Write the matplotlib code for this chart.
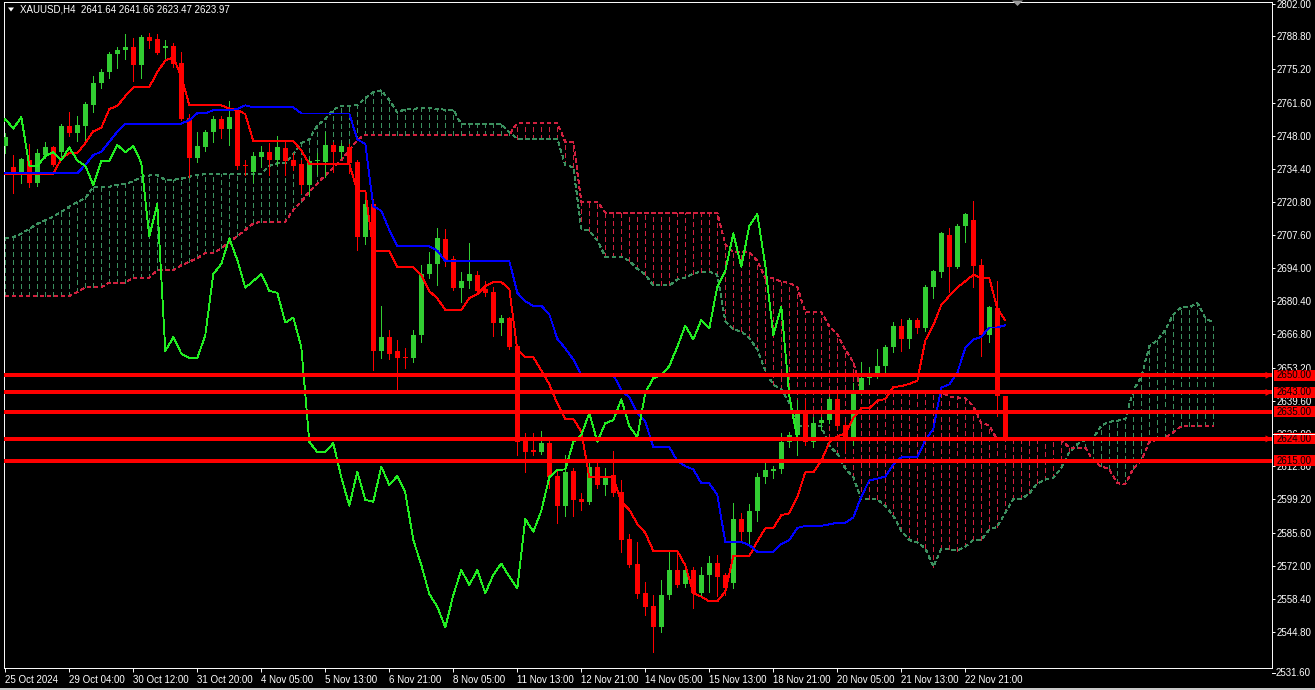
import matplotlib
matplotlib.use("Agg")
import matplotlib.pyplot as plt
import matplotlib.transforms as mtransforms
from matplotlib.patches import Rectangle, Polygon
from matplotlib.lines import Line2D
import numpy as np

plt.rcParams['font.family'] = ['Liberation Sans', 'DejaVu Sans']
plt.rcParams['lines.scale_dashes'] = False

# ---------------- data (XAUUSD H4) ----------------
open_ = [2743.9, 2735.3, 2733.0, 2738.1, 2728.9, 2740.2, 2743.5, 2741.4, 2752.2, 2749.2,
         2752.2, 2760.5, 2769.6, 2774.0, 2781.6, 2783.2, 2784.3, 2777.2, 2788.5, 2787.7,
         2784.1, 2784.8, 2778.0, 2755.3, 2739.1, 2743.5, 2749.5, 2754.9, 2751.0, 2758.0,
         2736.0, 2733.4, 2739.5, 2741.4, 2738.1, 2743.2, 2738.0, 2736.5, 2727.9, 2737.6,
         2737.5, 2744.3, 2741.3, 2743.5, 2737.2, 2706.5, 2720.0, 2660.0, 2665.6, 2660.0,
         2657.5, 2657.0, 2666.5, 2691.5, 2695.6, 2705.8, 2697.6, 2685.9, 2688.6, 2691.1,
         2685.3, 2684.2, 2671.6, 2673.6, 2662.0, 2623.2, 2619.0, 2618.5, 2622.5, 2608.6,
         2596.6, 2610.8, 2599.4, 2598.3, 2612.6, 2605.1, 2609.0, 2602.1, 2583.0, 2572.8,
         2561.0, 2555.6, 2546.9, 2560.1, 2570.3, 2564.5, 2570.3, 2560.8, 2568.3, 2573.0,
         2568.3, 2564.8, 2591.2, 2586.0, 2594.5, 2608.3, 2611.0, 2611.5, 2622.7, 2625.4,
         2634.7, 2622.8, 2630.4, 2631.7, 2640.2, 2629.5, 2624.6, 2643.0, 2648.8, 2650.0,
         2653.8, 2661.7, 2670.3, 2664.7, 2672.7, 2669.2, 2686.3, 2692.5, 2707.4, 2694.5,
         2711.1, 2713.6, 2695.0, 2666.5, 2677.7, 2641.64]
high = [2749.0, 2740.2, 2738.8, 2744.7, 2742.5, 2745.6, 2744.0, 2752.7, 2757.7, 2756.3,
        2762.0, 2772.5, 2775.5, 2782.5, 2784.5, 2789.7, 2788.0, 2789.3, 2790.0, 2789.7,
        2787.1, 2785.9, 2782.5, 2756.8, 2749.7, 2750.5, 2756.0, 2756.3, 2762.3, 2759.0,
        2738.1, 2741.5, 2744.0, 2745.0, 2748.0, 2745.5, 2740.9, 2738.0, 2739.0, 2741.0,
        2749.7, 2745.5, 2745.0, 2744.5, 2738.0, 2724.2, 2722.0, 2678.5, 2668.6, 2664.5,
        2661.1, 2668.6, 2695.2, 2700.6, 2710.2, 2710.0, 2699.0, 2692.4, 2704.0, 2692.6,
        2688.5, 2686.3, 2674.7, 2674.0, 2663.0, 2626.3, 2626.3, 2627.3, 2624.2, 2611.0,
        2617.4, 2611.9, 2601.7, 2614.0, 2614.0, 2611.9, 2619.2, 2607.2, 2585.1, 2581.9,
        2565.5, 2560.1, 2566.2, 2577.8, 2577.8, 2571.7, 2571.7, 2571.7, 2576.0, 2576.3,
        2569.0, 2597.6, 2593.5, 2597.3, 2610.2, 2614.9, 2612.9, 2626.3, 2626.7, 2639.9,
        2639.9, 2633.1, 2633.0, 2641.0, 2642.5, 2631.0, 2646.7, 2655.6, 2653.5, 2660.8,
        2662.6, 2672.0, 2673.0, 2673.5, 2673.5, 2686.8, 2693.2, 2708.8, 2710.4, 2712.0,
        2716.5, 2721.4, 2697.6, 2678.5, 2688.7, 2641.66]
low = [2741.0, 2724.5, 2728.9, 2727.2, 2727.6, 2739.1, 2735.5, 2739.1, 2747.8, 2745.9,
       2746.0, 2757.9, 2767.5, 2771.8, 2775.7, 2779.4, 2770.6, 2771.6, 2783.9, 2781.5,
       2779.8, 2776.3, 2754.5, 2731.3, 2737.5, 2742.0, 2745.6, 2747.0, 2744.3, 2734.5,
       2732.0, 2729.3, 2735.4, 2732.0, 2736.1, 2732.0, 2734.1, 2724.5, 2723.5, 2732.5,
       2731.3, 2733.1, 2738.8, 2732.7, 2701.3, 2703.8, 2652.2, 2657.0, 2656.5, 2643.3,
       2652.9, 2655.5, 2663.8, 2689.7, 2687.0, 2694.9, 2685.0, 2680.1, 2685.6, 2683.3,
       2682.5, 2666.2, 2666.5, 2660.6, 2617.4, 2610.6, 2617.5, 2618.0, 2603.8, 2589.7,
       2592.5, 2592.5, 2594.9, 2597.5, 2603.8, 2601.0, 2600.5, 2577.8, 2571.5, 2558.7,
       2551.9, 2536.9, 2545.1, 2558.4, 2563.5, 2563.4, 2554.6, 2560.1, 2561.4, 2559.7,
       2560.1, 2562.8, 2581.9, 2581.5, 2590.5, 2606.1, 2607.9, 2610.2, 2620.8, 2617.4,
       2621.5, 2620.8, 2627.6, 2630.5, 2628.0, 2619.0, 2621.5, 2642.5, 2646.5, 2648.8,
       2650.8, 2659.7, 2659.9, 2661.0, 2667.5, 2668.0, 2681.5, 2690.1, 2684.2, 2694.0,
       2704.7, 2686.3, 2658.0, 2663.8, 2633.4, 2623.47]
close = [2747.4, 2733.2, 2738.4, 2728.9, 2741.0, 2743.5, 2736.2, 2752.2, 2749.2, 2752.6,
         2761.1, 2769.7, 2774.3, 2781.7, 2783.2, 2784.4, 2777.2, 2788.5, 2787.0, 2782.1,
         2784.8, 2777.6, 2755.1, 2739.1, 2743.9, 2749.7, 2754.9, 2751.0, 2755.7, 2735.8,
         2735.6, 2739.8, 2741.4, 2738.1, 2743.3, 2737.9, 2735.8, 2727.9, 2737.7, 2737.9,
         2744.3, 2741.3, 2743.9, 2737.0, 2706.8, 2720.1, 2660.0, 2665.6, 2658.9, 2657.0,
         2657.0, 2666.5, 2691.5, 2695.6, 2706.1, 2697.2, 2685.9, 2688.6, 2691.5, 2684.6,
         2683.8, 2671.6, 2673.6, 2661.6, 2622.8, 2618.5, 2618.8, 2622.2, 2608.3, 2596.6,
         2610.6, 2599.0, 2598.3, 2612.6, 2605.1, 2608.8, 2602.0, 2582.6, 2572.4, 2560.5,
         2555.3, 2546.9, 2560.1, 2570.3, 2564.2, 2570.3, 2560.8, 2568.3, 2573.0, 2567.6,
         2562.8, 2591.2, 2586.0, 2594.5, 2608.3, 2611.3, 2611.5, 2622.7, 2625.6, 2634.6,
         2622.8, 2630.4, 2631.7, 2640.2, 2629.3, 2624.6, 2642.9, 2648.8, 2650.1, 2653.8,
         2661.7, 2670.3, 2664.7, 2672.7, 2669.2, 2686.3, 2692.8, 2708.1, 2694.5, 2711.1,
         2716.0, 2694.9, 2666.5, 2678.1, 2641.6, 2623.97]

tenkan = ([2732.4] * 7 +
          [2738.7, 2741.0, 2741.0, 2745.0, 2749.9, 2751.3, 2759.0, 2760.3, 2764.3, 2767.9,
           2767.9, 2768.0, 2774.1, 2778.9, 2780.2, 2772.3, 2760.6, 2760.7, 2760.7, 2760.7,
           2760.5, 2759.2, 2758.6, 2756.9] +
          [2745.9] * 6 + [2742.0] + [2736.5] * 6 + [2725.6] * 2 + [2701.0] * 3 +
          [2694.3] * 3 + [2691.0, 2684.5, 2681.5] + [2676.8] * 3 +
          [2681.6, 2683.2, 2686.5, 2688.2, 2688.2, 2685.4, 2660.5, 2657.4, 2657.4, 2652.0,
           2646.3, 2638.5, 2632.2, 2632.2, 2627.0] +
          [2608.3] * 4 + [2598.2, 2595.0, 2589.2, 2585.5] + [2578.1] * 4 +
          [2572.2, 2561.0, 2559.4, 2557.5, 2557.5, 2561.5] + [2576.0] * 3 +
          [2582.0, 2587.4, 2587.4, 2592.8, 2593.5, 2600.2, 2610.3, 2610.3, 2615.0, 2622.5,
           2625.0, 2626.2, 2632.5, 2636.6, 2636.6, 2639.6, 2640.3, 2645.2, 2645.6, 2646.5,
           2647.8, 2664.3, 2670.5, 2678.8, 2682.5, 2686.0, 2688.5, 2691.2, 2689.8, 2689.8,
           2677.4, 2672.5])
kijun = ([2732.7] * 10 + [2736.1, 2740.2, 2741.5, 2745.6, 2749.7] + [2753.0] * 8 +
         [2754.5] + [2757.3] * 2 + [2758.5] * 3 + [2759.0, 2760.5] + [2759.7] * 6 +
         [2757.2] * 7 + [2746.5, 2744.8, 2719.1, 2717.4, 2709.5] + [2702.8] * 5 +
         [2701.0] + [2696.8] * 9 +
         [2683.8, 2680.2, 2678.5, 2678.5, 2675.0, 2665.0, 2661.0, 2656.5] + [2650.2] * 5 +
         [2644.0, 2640.9, 2634.5, 2631.0] + [2620.6] * 3 +
         [2615.0, 2612.8, 2611.5, 2605.8, 2605.8, 2601.0] + [2581.8] * 3 + [2580.5] +
         [2577.8] * 3 + [2581.0, 2582.5, 2587.5] + [2588.4] * 3 +
         [2589.0, 2589.7, 2589.7, 2591.8, 2600.4, 2607.0, 2607.7, 2608.6, 2613.5] +
         [2616.4] * 3 +
         [2623.5, 2628.0, 2645.0, 2646.3, 2651.0, 2661.2, 2664.6, 2665.8, 2669.6, 2669.6,
          2670.5])
span_a = ([2706.0, 2706.5, 2708.0, 2710.0, 2712.0, 2713.5, 2715.0, 2717.0, 2719.0, 2721.0,
           2722.5, 2727.2, 2727.2, 2727.2, 2728.0, 2728.5, 2729.3, 2731.3, 2731.8, 2732.0,
           2730.0, 2730.0, 2730.5, 2731.3, 2732.0, 2732.3] +
          [2732.55] * 7 +
          [2735.7, 2736.85, 2736.85, 2740.55, 2745.05, 2746.55, 2752.3, 2754.85, 2758.7,
           2760.4, 2760.4, 2760.5, 2763.5, 2765.9, 2766.65, 2762.65, 2757.55, 2759.0, 2759.0,
           2759.6, 2759.5, 2758.85, 2758.8, 2758.7] +
          [2752.8] * 6 + [2749.5] + [2746.85] * 6 +
          [2736.05, 2735.2, 2710.05, 2709.2, 2705.25] + [2698.55] * 3 +
          [2696.9, 2693.65, 2691.25] + [2686.8] * 3 +
          [2689.2, 2690.0, 2691.65, 2692.5, 2692.5, 2691.1, 2672.15, 2668.8, 2667.95, 2665.25,
           2660.65, 2651.75, 2646.1, 2644.35, 2638.6] +
          [2629.25] * 4 + [2621.1, 2617.95, 2611.85, 2608.25] + [2599.35] * 3 +
          [2596.55, 2592.5, 2586.25, 2582.6, 2581.65, 2579.25, 2571.65, 2578.9, 2578.9,
           2578.25, 2579.9, 2582.6, 2582.6, 2586.9, 2588.0, 2593.85, 2599.35, 2599.35, 2601.7,
           2605.75, 2607.35, 2607.95, 2612.15, 2618.5, 2621.8, 2623.65, 2624.45, 2629.35,
           2631.0, 2631.45, 2632.1, 2643.9, 2649.25, 2661.9, 2664.4, 2668.5, 2674.85, 2677.9,
           2677.8, 2679.7, 2673.5, 2671.5])
span_b = ([2682.5] * 9 + [2684.0] + [2686.0] * 3 + [2688.0] * 3 + [2690.0] * 3 +
          [2693.0] * 3 + [2695.0, 2696.5, 2698.0] + [2700.0] * 2 +
          [2702.0, 2704.5, 2707.0, 2709.5, 2712.2] + [2712.9] * 4 +
          [2717.7, 2721.1, 2725.2, 2728.5, 2732.0, 2735.0, 2738.1, 2742.0, 2746.3] +
          [2748.5] * 19 + [2753.3] * 6 + [2745.6] * 2 + [2721.1] * 3 + [2716.65] * 15 +
          [2703.7] + [2700.3] * 3 + [2696.9, 2689.85, 2689.7, 2688.4, 2687.8, 2686.1] +
          [2676.0] * 3 + [2670.05, 2666.9, 2660.5, 2655.45] + [2643.3] * 11 +
          [2641.2, 2640.95, 2640.7, 2637.45, 2630.55, 2629.45] + [2623.55] * 9 +
          [2620.45] * 3 +
          [2614.75, 2612.7, 2611.6, 2605.8, 2605.45, 2611.85, 2615.05, 2622.85, 2623.65,
           2624.45, 2626.7] + [2629.15] * 5)

levels = [2650.0, 2643.0, 2635.0, 2624.0, 2615.0]
level_arrows = [True, True, False, True, False]
bid = 2623.97

date_labels = ['25 Oct 2024', '29 Oct 04:00', '30 Oct 12:00', '31 Oct 20:00', '4 Nov 05:00',
               '5 Nov 13:00', '6 Nov 21:00', '8 Nov 05:00', '11 Nov 13:00', '12 Nov 21:00',
               '14 Nov 05:00', '15 Nov 13:00', '18 Nov 21:00', '20 Nov 05:00', '21 Nov 13:00',
               '22 Nov 21:00']
price_labels = ['2802.00', '2788.80', '2775.20', '2761.60', '2748.00', '2734.40', '2720.80',
                '2707.60', '2694.00', '2680.40', '2666.80', '2653.20', '2639.60', '2626.00',
                '2612.80', '2599.20', '2585.60', '2572.00', '2558.40', '2544.80']
bottom_price_label = '2531.60'
header = 'XAUUSD,H4  2641.64 2641.66 2623.47 2623.97'

# ---------------- arrays ----------------
o = np.array(open_); h = np.array(high); l = np.array(low); c = np.array(close)
T = np.array(tenkan); K = np.array(kijun)
SA = np.array(span_a); SB = np.array(span_b)
idx = np.arange(len(c))
jdx = np.arange(len(SA))

# ---------------- styling ----------------
BULL = '#32cd32'
BEAR = '#ff0000'
CLOUD_UP = '#3b8f5e'
CLOUD_DN = '#d0203f'
CHIKOU = '#22ee22'
WHITE = '#ffffff'
LW = 0.62

W, H = 1315, 690
fig = plt.figure(figsize=(W / 100, H / 100), dpi=100)
fig.patch.set_facecolor('black')

XL, XR, YT, YB = 3.5, 1272.3, 2.0, 667.7
BAR0_PX, BAR_PX = 5.3, 8.0
PX_PER_USD = 2.443
TOP_PRICE, TOP_PX = 2802.0, 4.0

ax = fig.add_axes([XL / W, 1 - YB / H, (XR - XL) / W, (YB - YT) / H])
ax.set_facecolor('black')
ax.set_xlim((XL - BAR0_PX) / BAR_PX, (XR - BAR0_PX) / BAR_PX)
ax.set_ylim(TOP_PRICE - (YB - TOP_PX) / PX_PER_USD, TOP_PRICE + (TOP_PX - YT) / PX_PER_USD)

def py(price):
    return TOP_PX + (TOP_PRICE - price) * PX_PER_USD

# cloud (vertical dashed hatching)
lo = np.minimum(SA, SB)
hi = np.maximum(SA, SB)
ccols = [CLOUD_UP if a >= b else CLOUD_DN for a, b in zip(SA, SB)]
ax.vlines(jdx, lo, hi, colors=ccols, linestyles=[(0, (3.2, 2.2))], linewidths=LW,
          antialiased=False, zorder=1)
ax.plot(jdx, SA, color=CLOUD_UP, ls=(0, (2.2, 2.2)), lw=LW, antialiased=False, zorder=1.2)
ax.plot(jdx, SB, color=CLOUD_DN, ls=(0, (2.2, 2.2)), lw=LW, antialiased=False, zorder=1.2)

# candles
cols = [BULL if cc >= oo else BEAR for oo, cc in zip(o, c)]
ax.vlines(idx, l, h, colors=cols, linewidths=LW, antialiased=False, zorder=3)
body_lo = np.minimum(o, c)
body_h = np.maximum(np.abs(c - o), 0.45)
ax.bar(idx, body_h, bottom=body_lo, width=0.62, color=cols, linewidth=0,
       antialiased=False, zorder=3)

# ichimoku lines
ax.plot(idx, T, color='#ff0000', lw=LW, antialiased=False, zorder=4)
ax.plot(idx, K, color='#0000ff', lw=LW, antialiased=False, zorder=4)
ax.plot(idx[25:] - 26, c[25:], color=CHIKOU, lw=LW, antialiased=False, zorder=4)

# horizontal levels
for lv in levels:
    ax.axhline(lv, color='#ff0000', lw=1.45, antialiased=False, zorder=6)

# axes frame / ticks
for side in ['left', 'right', 'top', 'bottom']:
    ax.spines[side].set_color(WHITE)
    ax.spines[side].set_linewidth(0.7)
ax.yaxis.tick_right()
ax.set_yticks([float(s) for s in price_labels])
ax.set_yticklabels(price_labels)
ax.tick_params(axis='y', colors=WHITE, labelcolor=WHITE, length=2.0, width=0.7,
               pad=0.8, labelsize=7, direction='out')
ax.set_xticks(list(range(0, 8 * len(date_labels), 8)))
ax.set_xticklabels(date_labels, ha='left')
ax.tick_params(axis='x', colors=WHITE, labelcolor=WHITE, length=3.0, width=0.7,
               pad=2.6, labelsize=7, direction='out')

# right-side level labels (they cover the axis labels, as in MT4)
blend = mtransforms.blended_transform_factory(fig.transFigure, ax.transData)
box_h = 11.0 / PX_PER_USD
for lv, arr in zip(levels, level_arrows):
    ax.add_patch(Rectangle((1273.5 / W, lv - box_h / 2), 41.5 / W, box_h,
                           transform=blend, facecolor='#ff0000', edgecolor='none',
                           clip_on=False, zorder=20))
    ax.text(1294.5 / W, lv, f'{lv:.2f}', transform=blend, color='black', fontsize=7,
            ha='center', va='center', clip_on=False, zorder=21)
    if arr:
        yp = py(lv)
        fig.add_artist(Polygon([[1265.5 / W, 1 - (yp - 3.5) / H], [1272 / W, 1 - yp / H],
                                [1265.5 / W, 1 - (yp + 3.5) / H]], closed=True,
                               transform=fig.transFigure, facecolor='#ff0000',
                               edgecolor='none', zorder=20))

# bid price marker edge
ybid = py(bid) - 5.0
fig.add_artist(Line2D([1273 / W, 1315 / W], [1 - ybid / H, 1 - ybid / H], color=WHITE,
                      lw=0.7, transform=fig.transFigure, zorder=22))

# bottom price label
fig.text(1275.8 / W, 1 - 672.7 / H, bottom_price_label, color=WHITE, fontsize=7,
         ha='left', va='center')
fig.add_artist(Line2D([1272.3 / W, 1275 / W], [1 - 672.7 / H, 1 - 672.7 / H], color=WHITE,
                      lw=0.7, transform=fig.transFigure))

# header
fig.add_artist(Polygon([[8 / W, 1 - 7.5 / H], [14 / W, 1 - 7.5 / H], [11 / W, 1 - 11.5 / H]],
                       closed=True, transform=fig.transFigure, facecolor=WHITE,
                       edgecolor='none'))
fig.text(19.5 / W, 1 - 9.5 / H, header, color=WHITE, fontsize=7, ha='left', va='center')

# chart shift marker
fig.add_artist(Polygon([[1012 / W, 1 - 0.5 / H], [1023 / W, 1 - 0.5 / H], [1017.5 / W, 1 - 6 / H]],
                       closed=True, transform=fig.transFigure, facecolor='#9a9a9a',
                       edgecolor='none'))

# bottom window edge
fig.add_artist(Rectangle((0, 0), 1, 2.5 / H, transform=fig.transFigure,
                         facecolor='#c8c8c8', edgecolor='none'))

fig.savefig('out.png', dpi=100, facecolor='black')
